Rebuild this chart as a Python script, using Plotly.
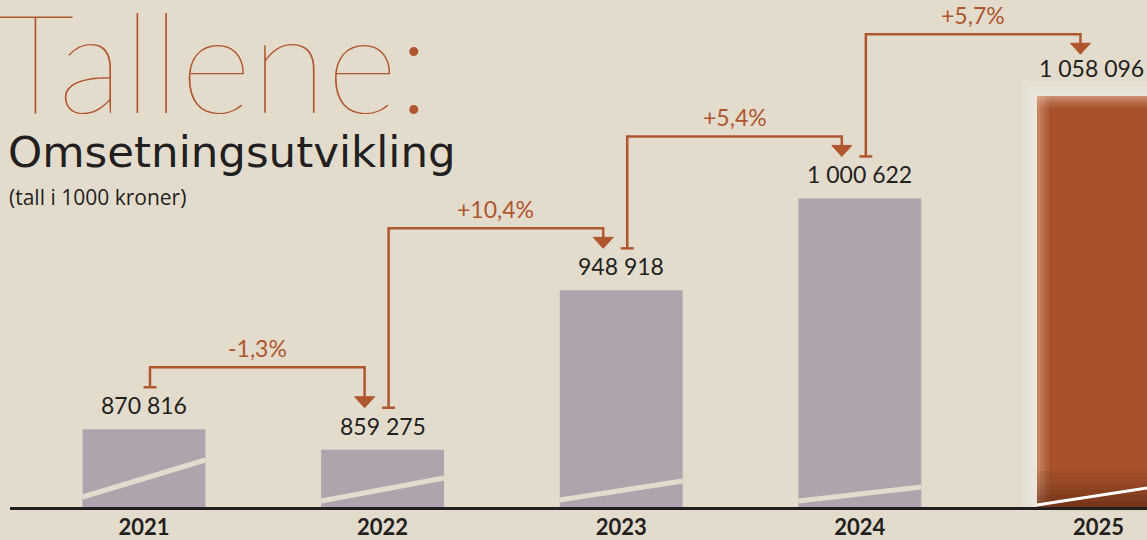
import plotly.graph_objects as go

# ---------------- data ----------------
years = ["2021", "2022", "2023", "2024", "2025"]
revenue = [870816, 859275, 948918, 1000622, 1058096]
title_text = "Tallene:"
subtitle_text = "Omsetningsutvikling"
unit_text = "(tall i 1000 kroner)"

# ---------------- style ----------------
W, H = 1147, 540
M_B = 33
PLOT_H = H - M_B
X_RANGE = [-0.6035, 4.2035]
Y_BASE = 827073
Y_PX_PER_UNIT = 0.001778
Y_RANGE = [Y_BASE, Y_BASE + PLOT_H / Y_PX_PER_UNIT]
BAR_W = 0.515

BG = "#e3dccd"
BAR = "#afa3ad"
ACCENT = "#a8522c"
LINE = "#b0562f"
TEXT = "#231f20"
FONT = "Lato"
FONT2 = "Open Sans"
FONT3 = "DejaVu Sans"

STRIPE_L = [10, 6, 7, 6, 2]     # px above base, left edge of bar
STRIPE_R = [47, 29, 26, 20, 21]  # px above base, right edge of bar


def x2px(x):
    return (x - X_RANGE[0]) / (X_RANGE[1] - X_RANGE[0]) * W


def px2x(px):
    return X_RANGE[0] + px / W * (X_RANGE[1] - X_RANGE[0])


def y2px(y):
    return PLOT_H - (y - Y_RANGE[0]) / (Y_RANGE[1] - Y_RANGE[0]) * PLOT_H


def px2y(py):
    return Y_RANGE[0] + (PLOT_H - py) / PLOT_H * (Y_RANGE[1] - Y_RANGE[0])


def px_paper_x(px):
    return px / W


def px_paper_y(py):
    return (PLOT_H - py) / PLOT_H


idx = list(range(len(years)))
colors = [BAR] * (len(years) - 1) + [ACCENT]

fig = go.Figure()
fig.add_trace(go.Bar(x=idx, y=revenue, width=BAR_W, marker=dict(color=colors, line=dict(width=0)),
                     hoverinfo="skip"))

shapes = []
annotations = []

bar_half_px = BAR_W / 2 * W / (X_RANGE[1] - X_RANGE[0])
base_px = PLOT_H

# glow behind last bar
lc = x2px(idx[-1])
ltop = y2px(revenue[-1])
for g, a in [(16, 0.12), (10, 0.18), (5, 0.25)]:
    shapes.append(dict(type="rect", layer="below", xref="x", yref="y",
                       x0=px2x(lc - bar_half_px - g), x1=px2x(lc + bar_half_px + g),
                       y0=px2y(base_px), y1=px2y(ltop - g),
                       fillcolor=f"rgba(246,243,236,{a})", line=dict(width=0)))

# shading on last bar
L = lc - bar_half_px
R = lc + bar_half_px
for i, a in enumerate([0.42, 0.3, 0.2, 0.1]):
    shapes.append(dict(type="rect", layer="above", xref="x", yref="y",
                       x0=px2x(L + i * 3), x1=px2x(L + i * 3 + 3), y0=px2y(base_px), y1=px2y(ltop),
                       fillcolor=f"rgba(240,200,175,{a})", line=dict(width=0)))
for i, a in enumerate([0.45, 0.3, 0.18, 0.08]):
    shapes.append(dict(type="rect", layer="above", xref="x", yref="y",
                       x0=px2x(L), x1=px2x(R), y0=px2y(ltop + i * 3 + 3), y1=px2y(ltop + i * 3),
                       fillcolor=f"rgba(240,200,175,{a})", line=dict(width=0)))
for i, a in enumerate([0.08, 0.15, 0.22, 0.3, 0.4, 0.5]):
    shapes.append(dict(type="rect", layer="above", xref="x", yref="y",
                       x0=px2x(L), x1=px2x(R), y0=px2y(base_px - 36 + i * 6 + 6), y1=px2y(base_px - 36 + i * 6),
                       fillcolor=f"rgba(70,25,8,{a})", line=dict(width=0)))

# stripes on bars
for i, v in enumerate(revenue):
    c = x2px(i)
    last = i == len(revenue) - 1
    shapes.append(dict(type="line", layer="above", xref="x", yref="y",
                       x0=px2x(c - bar_half_px), y0=px2y(base_px - STRIPE_L[i]),
                       x1=px2x(c + bar_half_px), y1=px2y(base_px - STRIPE_R[i]),
                       line=dict(color="#ffffff" if last else BG, width=3 if last else 5)))

# value labels
for i, v in enumerate(revenue):
    last = i == len(revenue) - 1
    annotations.append(dict(x=i, y=v, xref="x", yref="y", text=f"{v:,}".replace(",", " "),
                            showarrow=False, yanchor="bottom", yshift=12 if last else 8,
                            xshift=-7 if last else 0,
                            font=dict(family=FONT, size=23, color=TEXT)))

# change arrows
ANCHOR_GAP = 42
anchors = [y2px(v) - ANCHOR_GAP for v in revenue]
for i in range(len(revenue) - 1):
    c0 = x2px(i) + 6
    c1 = x2px(i + 1) - 18
    a0 = anchors[i]
    a1 = anchors[i + 1]
    hy = min(a0, a1) - 20
    path = (f"M {px2x(c0)},{px2y(a0)} L {px2x(c0)},{px2y(hy)} "
            f"L {px2x(c1)},{px2y(hy)} L {px2x(c1)},{px2y(a1 - 9)}")
    shapes.append(dict(type="path", path=path, xref="x", yref="y", layer="above",
                       line=dict(color=LINE, width=2.5)))
    shapes.append(dict(type="line", xref="x", yref="y", layer="above",
                       x0=px2x(c0 - 6.5), x1=px2x(c0 + 6.5), y0=px2y(a0), y1=px2y(a0),
                       line=dict(color=LINE, width=2.5)))
    tri = (f"M {px2x(c1 - 10)},{px2y(a1 - 11)} L {px2x(c1 + 10)},{px2y(a1 - 11)} "
           f"L {px2x(c1)},{px2y(a1)} Z")
    shapes.append(dict(type="path", path=tri, xref="x", yref="y", layer="above",
                       fillcolor=LINE, line=dict(color=LINE, width=1)))
    pct = (revenue[i + 1] / revenue[i] - 1) * 100
    annotations.append(dict(x=px2x((c0 + c1) / 2), y=px2y(hy - 19), xref="x", yref="y",
                            text=f"{pct:+.1f}%".replace(".", ","), showarrow=False,
                            font=dict(family=FONT, size=23, color=LINE)))

# baseline axis line
shapes.append(dict(type="line", xref="paper", yref="paper", x0=px_paper_x(10), x1=1,
                   y0=px_paper_y(508.5), y1=px_paper_y(508.5), line=dict(color=TEXT, width=3)))

# titles
annotations.append(dict(x=px_paper_x(-6), y=px_paper_y(59), xref="paper", yref="paper",
                        xanchor="left", yanchor="middle", text=title_text, showarrow=False,
                        height=110, valign="middle",
                        font=dict(family=FONT, size=138, color=LINE, weight=200)))
annotations.append(dict(x=px_paper_x(6), y=px_paper_y(152), xref="paper", yref="paper",
                        xanchor="left", yanchor="middle", text=subtitle_text, showarrow=False,
                        font=dict(family=FONT3, size=43.5, color=TEXT, weight=400)))
annotations.append(dict(x=px_paper_x(7), y=px_paper_y(197), xref="paper", yref="paper",
                        xanchor="left", yanchor="middle", text=unit_text, showarrow=False,
                        font=dict(family=FONT2, size=21, color=TEXT, weight=400)))

fig.update_layout(
    width=W, height=H,
    margin=dict(l=0, r=0, t=0, b=M_B, pad=0, autoexpand=False),
    paper_bgcolor=BG, plot_bgcolor=BG,
    showlegend=False,
    shapes=shapes, annotations=annotations,
    xaxis=dict(range=X_RANGE, tickvals=idx, ticktext=years, showgrid=False, zeroline=False,
               showline=False, ticks="outside", ticklen=1, tickcolor="rgba(0,0,0,0)",
               automargin=False,
               tickfont=dict(family=FONT, size=22, color=TEXT, weight=700), fixedrange=True),
    yaxis=dict(range=Y_RANGE, visible=False, showgrid=False, zeroline=False, fixedrange=True,
               automargin=False),
)

fig.write_html("out.html", config={"displayModeBar": False},
               post_script="document.body.style.margin='0';document.body.style.overflow='hidden';"
                           "document.body.style.background='" + BG + "';")
